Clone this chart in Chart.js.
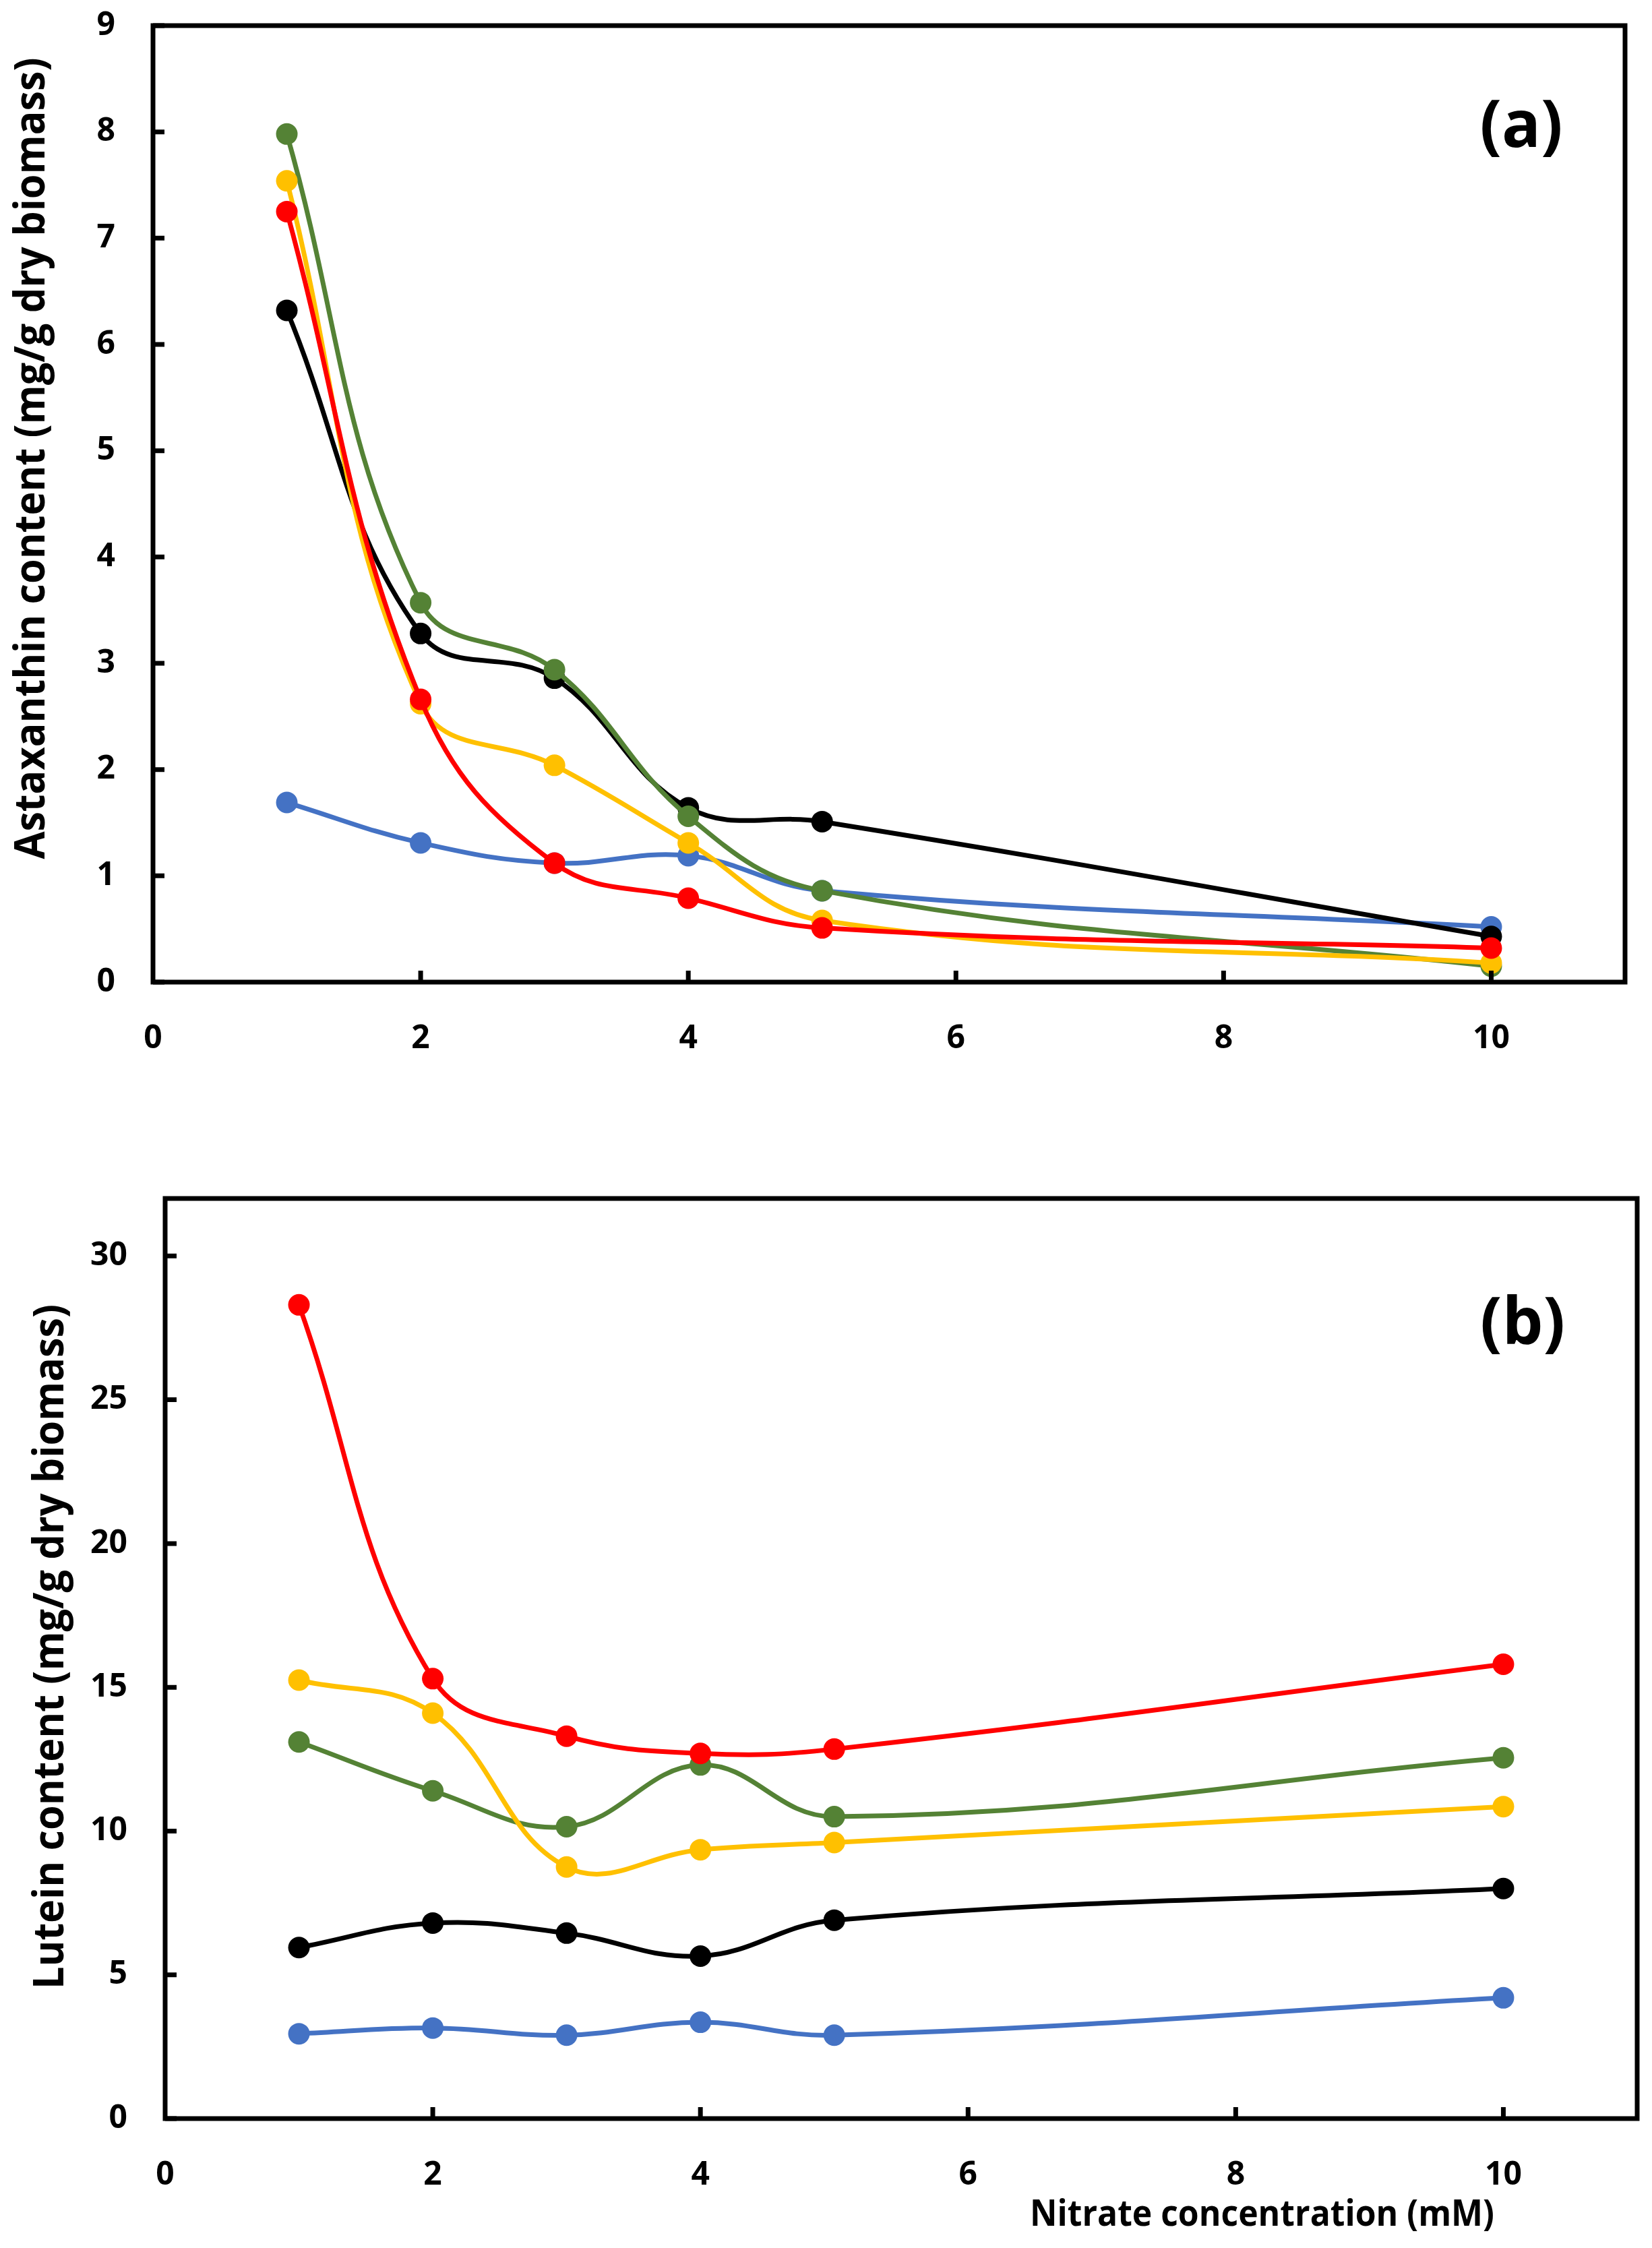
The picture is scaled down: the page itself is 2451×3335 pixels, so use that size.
<!DOCTYPE html>
<html>
<head>
<meta charset="utf-8">
<script src="https://cdn.jsdelivr.net/npm/chart.js@4.4.0/dist/chart.umd.min.js"></script>
<style>
  body { margin: 0; background: #fff; }
  .panel { position: absolute; left: 0; width: 2451px; }
  #wrapA { top: 0; height: 1640px; }
  #wrapB { top: 1640px; height: 1695px; }
</style>
</head>
<body>
<div class="panel" id="wrapA"><canvas id="chartA"></canvas></div>
<div class="panel" id="wrapB"><canvas id="chartB"></canvas></div>
<script>
// nitrate concentration (mM)
const nitrate = [1, 2, 3, 4, 5, 10];

// (a) astaxanthin, mg/g dry biomass
const astaBlue   = [1.69, 1.31, 1.12, 1.19, 0.86, 0.52];
const astaBlack  = [6.32, 3.28, 2.86, 1.64, 1.51, 0.43];
const astaRed    = [7.25, 2.66, 1.12, 0.79, 0.51, 0.32];
const astaYellow = [7.54, 2.62, 2.04, 1.31, 0.58, 0.18];
const astaGreen  = [7.98, 3.57, 2.94, 1.56, 0.86, 0.15];

// (b) lutein, mg/g dry biomass
const lutBlue   = [2.95, 3.15, 2.90, 3.35, 2.90, 4.20];
const lutBlack  = [5.95, 6.80, 6.45, 5.65, 6.90, 8.00];
const lutRed    = [28.3, 15.3, 13.3, 12.7, 12.85, 15.8];
const lutYellow = [15.25, 14.1, 8.75, 9.35, 9.60, 10.85];
const lutGreen  = [13.1, 11.4, 10.15, 12.3, 10.5, 12.55];

const colors = { blue: '#4472C4', black: '#000000', red: '#FF0000', yellow: '#FFC000', green: '#548235' };

const tickFont = { family: 'Open Sans', size: 48, weight: 'bold' };

function series(label, values, color) {
  return {
    label: label,
    data: nitrate.map((x, i) => ({ x: x, y: values[i] })),
    borderColor: color,
    backgroundColor: color,
    borderWidth: 7,
    tension: 0.4,
    pointRadius: 16,
    pointBorderWidth: 0,
    pointBackgroundColor: color
  };
}

// frame round the plot area plus short inside tick marks
const framePlugin = {
  id: 'frame',
  afterDatasetsDraw(chart) {
    const { ctx, chartArea: a, scales } = chart;
    ctx.save();
    ctx.strokeStyle = '#000';
    ctx.lineWidth = 7;
    ctx.strokeRect(a.left, a.top, a.right - a.left, a.bottom - a.top);
    ctx.beginPath();
    scales.y.ticks.forEach(t => {
      const y = scales.y.getPixelForValue(t.value);
      ctx.moveTo(a.left, y);
      ctx.lineTo(a.left + 17, y);
    });
    scales.x.ticks.forEach(t => {
      if (t.value === 0) return;
      const x = scales.x.getPixelForValue(t.value);
      ctx.moveTo(x, a.bottom);
      ctx.lineTo(x, a.bottom - 17);
    });
    ctx.stroke();
    ctx.restore();
  }
};

// axis titles and panel letter, fitted to the measured text lengths
const textPlugin = {
  id: 'texts',
  afterDraw(chart, args, o) {
    const ctx = chart.ctx;
    ctx.save();
    ctx.fillStyle = '#000';
    ctx.textBaseline = 'alphabetic';

    ctx.font = 'bold 62px "Open Sans"';
    ctx.textAlign = 'center';
    ctx.save();
    ctx.translate(o.yTitleX, o.yTitleY);
    ctx.rotate(-Math.PI / 2);
    const w = ctx.measureText(o.yTitle).width;
    ctx.scale(o.yTitleLen / w, 1);
    ctx.fillText(o.yTitle, 0, 0);
    ctx.restore();

    if (o.xTitle) {
      ctx.font = 'bold 53px "Open Sans"';
      ctx.textAlign = 'left';
      ctx.save();
      ctx.translate(o.xTitleX, o.xTitleY);
      const wx = ctx.measureText(o.xTitle).width;
      ctx.scale(o.xTitleLen / wx, 1);
      ctx.fillText(o.xTitle, 0, 0);
      ctx.restore();
    }

    ctx.font = 'bold 96px "Open Sans"';
    ctx.textAlign = 'center';
    ctx.fillText(o.letter, o.letterX, o.letterY);
    ctx.restore();
  }
};

function makeOptions(yMax, yStep, padding, yWidth, xHeight, texts) {
  return {
    responsive: true,
    maintainAspectRatio: false,
    devicePixelRatio: 1,
    animation: false,
    events: [],
    layout: { padding: padding },
    plugins: { legend: { display: false }, tooltip: { enabled: false }, texts: texts },
    scales: {
      x: {
        type: 'linear',
        min: 0, max: 11,
        grid: { display: false },
        border: { display: false },
        ticks: { stepSize: 2, includeBounds: false, color: '#000', font: tickFont, padding: 48 },
        afterFit(s) { s.height = xHeight; s.paddingLeft = 0; s.paddingRight = 0; }
      },
      y: {
        min: 0, max: yMax,
        grid: { display: false },
        border: { display: false },
        ticks: { stepSize: yStep, includeBounds: false, color: '#000', font: tickFont, padding: 48 },
        afterFit(s) { s.width = yWidth; s.paddingTop = 0; s.paddingBottom = 0; }
      }
    }
  };
}

new Chart(document.getElementById('chartA'), {
  type: 'line',
  data: {
    datasets: [
      series('Red', astaRed, colors.red),
      series('Yellow', astaYellow, colors.yellow),
      series('Green', astaGreen, colors.green),
      series('Black', astaBlack, colors.black),
      series('Blue', astaBlue, colors.blue)
    ]
  },
  options: makeOptions(9, 1, { top: 38, right: 40, left: 0, bottom: 0 }, 227, 183, {
    yTitle: 'Astaxanthin content (mg/g dry biomass)', yTitleX: 66, yTitleY: 680, yTitleLen: 1189,
    letter: '(a)', letterX: 2257, letterY: 218
  }),
  plugins: [framePlugin, textPlugin]
});

new Chart(document.getElementById('chartB'), {
  type: 'line',
  data: {
    datasets: [
      series('Red', lutRed, colors.red),
      series('Yellow', lutYellow, colors.yellow),
      series('Green', lutGreen, colors.green),
      series('Black', lutBlack, colors.black),
      series('Blue', lutBlue, colors.blue)
    ]
  },
  options: makeOptions(32, 5, { top: 138, right: 22, left: 0, bottom: 0 }, 245, 192, {
    yTitle: 'Lutein content (mg/g dry biomass)', yTitleX: 94, yTitleY: 803, yTitleLen: 1016,
    xTitle: 'Nitrate concentration (mM)', xTitleX: 1528, xTitleY: 1662, xTitleLen: 689,
    letter: '(b)', letterX: 2259, letterY: 354
  }),
  plugins: [framePlugin, textPlugin]
});
</script>
</body>
</html>
